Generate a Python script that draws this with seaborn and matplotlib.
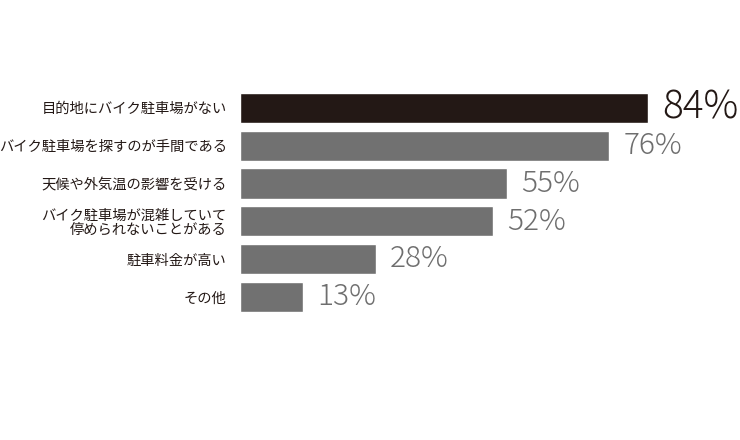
import matplotlib
matplotlib.use("Agg")
import matplotlib.pyplot as plt
import seaborn as sns
import pandas as pd

reasons = [
    "目的地にバイク駐車場がない",
    "バイク駐車場を探すのが手間である",
    "天候や外気温の影響を受ける",
    "バイク駐車場が混雑していて\n停められないことがある",
    "駐車料金が高い",
    "その他",
]
percent = [84, 76, 55, 52, 28, 13]
bar_colors = ["#231815", "#717171", "#717171", "#717171", "#717171", "#717171"]

sns.set_theme(style="white")
plt.rcParams["font.family"] = ["Noto Sans CJK JP", "DejaVu Sans"]

df = pd.DataFrame({"reason": reasons, "percent": percent})

fig = plt.figure(figsize=(7.4, 4.4), dpi=100)
ax = fig.add_axes([240 / 740, 0.282, 485.7 / 740, 0.516])
sns.barplot(data=df, y="reason", x="percent", hue="reason", palette=bar_colors,
            legend=False, width=0.8, saturation=1, ax=ax)
ax.set_xlim(0, 100)
ax.set_ylim(5.5, -0.5)
ax.set_xlabel("")
ax.set_ylabel("")
ax.set_xticks([])
for s in ax.spines.values():
    s.set_visible(False)
ax.tick_params(axis="y", length=0, pad=9.5)
for lbl in ax.get_yticklabels():
    lbl.set_fontsize(10.3)
    lbl.set_color("#231815")
    lbl.set_linespacing(1.0)

for i, v in enumerate(percent):
    big = i == 0
    ax.text(v + 2.9, i, f"{v}%", va="center", ha="left",
            fontsize=28 if big else 21.5, fontweight="light",
            color="#231815" if big else "#6e6e6e")

fig.savefig("out.png", dpi=100)
